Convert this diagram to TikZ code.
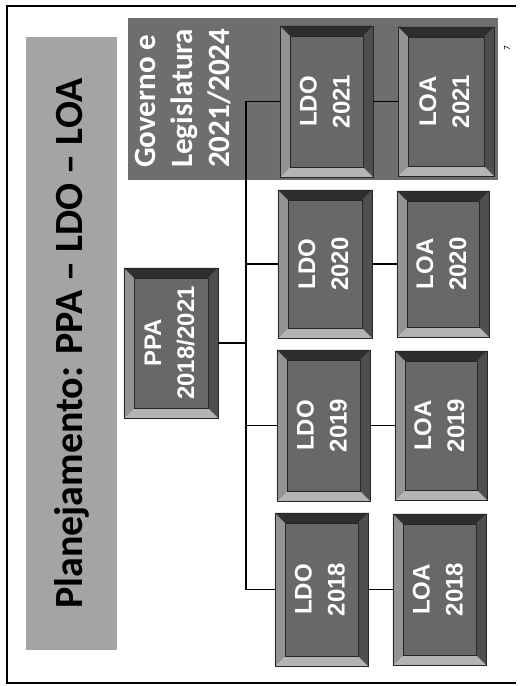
\documentclass[tikz,border=0pt]{standalone}
\usepackage{fontspec}
\setmainfont{Carlito}
\newfontfamily\boxfont{Liberation Sans}
\usetikzlibrary{calc}
\definecolor{face}{HTML}{686868}
\definecolor{bandgov}{HTML}{6E6E6E}
\definecolor{bandtitle}{HTML}{A4A4A4}
\definecolor{bevT}{HTML}{2E2E2E}
\definecolor{bevR}{HTML}{4E4E4E}
\definecolor{bevB}{HTML}{B4B4B4}
\definecolor{bevL}{HTML}{939393}
\tikzset{
  bevbox/.style={fill=face, inner sep=0pt, text=white,
    font=\boxfont\bfseries\fontsize{24}{33}\selectfont},
  edge/.style={draw=black!85, line width=0.6pt},
  conn/.style={draw=black, line width=1.8pt},
  frameline/.style={draw=black, line width=1.6pt},
}
\newcommand\bbox[6]{%
  \node[bevbox, minimum width={(#4-#2)*1pt}, minimum height={(#5-#3)*1pt}]
    (#1) at ({(#2+#4)/2},{(#3+#5)/2})
    {\rotatebox{90}{\begin{tabular}{@{}c@{}}#6\end{tabular}}};
  \fill[bevT] (#1.north west) -- (#1.north east) -- ($(#1.north east)+(-10,10)$) -- ($(#1.north west)+(10,10)$) -- cycle;
  \fill[bevR] (#1.north east) -- (#1.south east) -- ($(#1.south east)+(-10,-10)$) -- ($(#1.north east)+(-10,10)$) -- cycle;
  \fill[bevB] (#1.south east) -- (#1.south west) -- ($(#1.south west)+(10,-10)$) -- ($(#1.south east)+(-10,-10)$) -- cycle;
  \fill[bevL] (#1.south west) -- (#1.north west) -- ($(#1.north west)+(10,10)$) -- ($(#1.south west)+(10,-10)$) -- cycle;
  \draw[edge] (#1.north west) rectangle (#1.south east);
  \draw[edge] ($(#1.north west)+(10,10)$) rectangle ($(#1.south east)+(-10,-10)$);
}
\begin{document}
\begin{tikzpicture}[x=1pt,y=-1pt]
  \path[use as bounding box, fill=white] (0,0) rectangle (520,686);
  % frame
  \draw[frameline] (516,6) -- (7,6) -- (7,683) -- (516,683);
  % title band
  \node[fill=bandtitle, minimum width=91pt, minimum height=613pt, inner sep=0pt,
        font=\bfseries\fontsize{40}{44}\selectfont, text=black]
    (title) at (71.5,343.5) {\rotatebox{90}{Planejamento: PPA -- LDO -- LOA}};
  % government band
  \node[fill=bandgov, minimum width=370pt, minimum height=162pt, inner sep=0pt]
    (gov) at (313,99) {};
  \node[anchor=south, inner sep=0pt, text=white,
        font=\bfseries\fontsize{31}{37}\selectfont]
    (govtext) at (185,168) {\rotatebox{90}{\begin{tabular}{@{}l@{}}Governo e\\Legislatura\\2021/2024\end{tabular}}};
  % page number
  \node[rotate=90, inner sep=0pt, font=\fontsize{9}{9}\selectfont] (pg) at (507,48) {7};
  % boxes
  \bbox{ppa}{124}{268}{218}{418}{PPA\\2018/2021}
  \bbox{ldoA}{280}{26}{373}{177}{LDO\\2021}
  \bbox{ldoB}{278}{190}{372}{338}{LDO\\2020}
  \bbox{ldoC}{277}{350}{370}{501}{LDO\\2019}
  \bbox{ldoD}{275}{513}{368}{666}{LDO\\2018}
  \bbox{loaA}{398}{27}{494}{176}{LOA\\2021}
  \bbox{loaB}{397}{191}{489}{337}{LOA\\2020}
  \bbox{loaC}{395}{351}{487}{500}{LOA\\2019}
  \bbox{loaD}{393}{514}{486}{665}{LOA\\2018}
  % connectors
  \coordinate (sp) at (246,0);
  \draw[conn] (ppa.east) -- (ppa.east -| sp);
  \draw[conn] (ldoA.west) -- (ldoA.west -| sp) -- (ldoD.west -| sp) -- (ldoD.west);
  \draw[conn] (ldoB.west) -- (ldoB.west -| sp);
  \draw[conn] (ldoC.west) -- (ldoC.west -| sp);
  \draw[conn] (ldoA.east) -- (loaA.west);
  \draw[conn] (ldoB.east) -- (loaB.west);
  \draw[conn] (ldoC.east) -- (loaC.west);
  \draw[conn] (ldoD.east) -- (loaD.west);
\end{tikzpicture}
\end{document}
